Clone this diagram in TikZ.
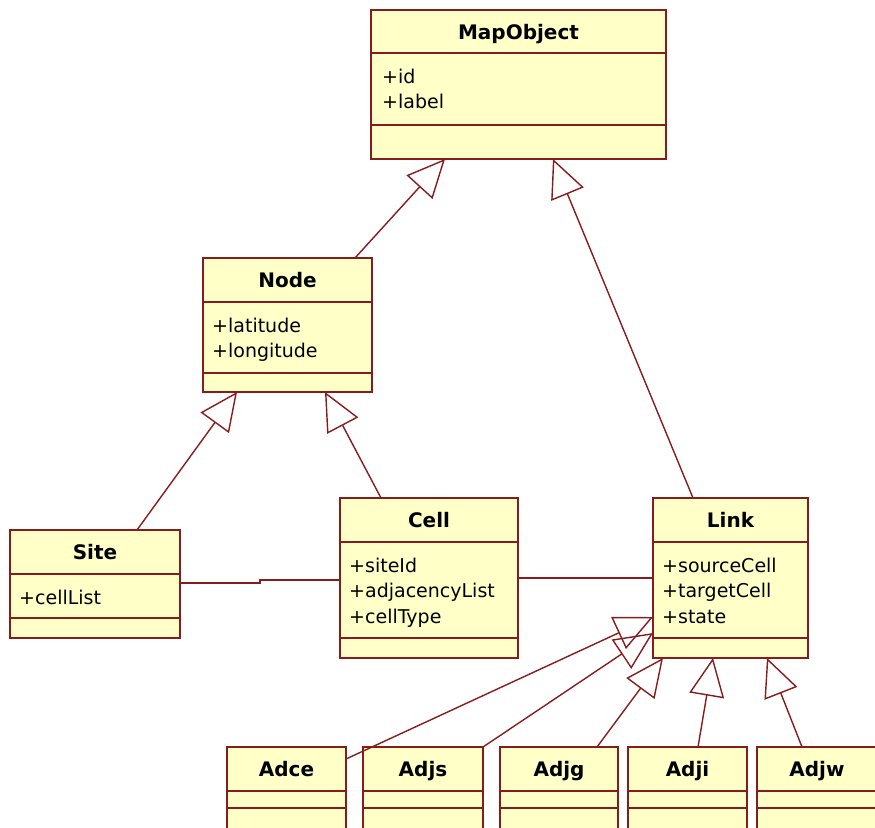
\documentclass[tikz,border=0pt]{standalone}
\usepackage{fontspec}
\setmainfont{DejaVu Sans}
\usetikzlibrary{arrows.meta,calc}
\definecolor{umlfill}{RGB}{255,255,200}
\definecolor{umlline}{RGB}{136,28,28}
\tikzset{
  cls/.style={draw=umlline, fill=umlfill, line width=1.6pt, inner sep=0pt, outer sep=0pt, anchor=north west},
  ttl/.style={font=\bfseries\fontsize{20}{24}\selectfont, anchor=base, inner sep=0pt},
  attr/.style={font=\fontsize{19}{23}\selectfont, anchor=base west, inner sep=0pt},
  sepline/.style={draw=umlline, line width=1.6pt},
  gen/.style={draw=umlline, line width=1.4pt, -{Triangle[open, length=38pt, width=35pt, line width=1.4pt]}},
  assoc/.style={draw=umlline, line width=1.4pt},
}
\newcommand\umlbox[8]{%
  \pgfmathsetmacro\bw{#4-#2}%
  \pgfmathsetmacro\bh{#5-#3}%
  \pgfmathsetmacro\bx{(#2+#4)/2}%
  \pgfmathsetmacro\by{#3+29}%
  \node[cls, minimum width=\bw pt, minimum height=\bh pt] (#1) at (#2,#3) {};
  \draw[sepline] (#2,#6) -- (#4,#6);
  \draw[sepline] (#2,#7) -- (#4,#7);
  \node[ttl] (#1-t) at (\bx,\by) {#8};
}
\begin{document}
\begin{tikzpicture}[x=1pt,y=-1pt]
\useasboundingbox (0,0) rectangle (875,827);
\clip (0,0) rectangle (875,827);

% classes
\umlbox{mapobj}{371}{10}{666}{159}{53}{125}{MapObject}
\node[attr] (mapobj-a1) at (382,83) {+id};
\node[attr] (mapobj-a2) at (382,108.5) {+label};

\umlbox{node}{203}{258}{372}{392}{302}{373}{Node}
\node[attr] (node-a1) at (212,332) {+latitude};
\node[attr] (node-a2) at (212,357.5) {+longitude};

\umlbox{site}{10}{530}{180}{638}{574}{618}{Site}
\node[attr] (site-a1) at (19,604) {+cellList};

\umlbox{cell}{340}{498}{518}{658}{542}{638}{Cell}
\node[attr] (cell-a1) at (349,572) {+siteId};
\node[attr] (cell-a2) at (349,597.5) {+adjacencyList};
\node[attr] (cell-a3) at (349,623) {+cellType};

\umlbox{link}{653}{498}{808}{658}{542}{638}{Link}
\node[attr] (link-a1) at (662,572) {+sourceCell};
\node[attr] (link-a2) at (662,597.5) {+targetCell};
\node[attr] (link-a3) at (662,623) {+state};

\umlbox{adce}{227}{747}{346}{845}{791}{808}{Adce}
\umlbox{adjs}{363}{747}{483}{845}{791}{808}{Adjs}
\umlbox{adjg}{500}{747}{618}{845}{791}{808}{Adjg}
\umlbox{adji}{628}{747}{747}{845}{791}{808}{Adji}
\umlbox{adjw}{757}{747}{877}{845}{791}{808}{Adjw}

% generalizations
\draw[gen] ($(node.north west)+(152,0)$) -- ($(mapobj.south west)+(74,0)$);
\draw[gen] ($(link.north west)+(40,0)$) -- ($(mapobj.south west)+(182,0)$);
\draw[gen] ($(site.north west)+(127,0)$) -- ($(node.south west)+(34,0)$);
\draw[gen] ($(cell.north west)+(41,0)$) -- ($(node.south west)+(122,0)$);
\draw[gen] ($(adce.north east)+(0,12)$) -- ($(link.north west)+(0,119)$);
\draw[gen] (adjs.north east) -- ($(link.north west)+(0,135)$);
\draw[gen] ($(adjg.north west)+(97,0)$) -- ($(link.south west)+(10,0)$);
\draw[gen] ($(adji.north west)+(70,0)$) -- ($(link.south west)+(60,0)$);
\draw[gen] ($(adjw.north west)+(45,0)$) -- ($(link.south west)+(114,0)$);

% associations
\draw[assoc] ($(site.north east)+(0,53)$) -- ($(site.north east)+(80,53)$)
  -- ($(cell.north west)+(-80,82)$) -- ($(cell.north west)+(0,82)$);
\draw[assoc] ($(cell.north east)+(0,80)$) -- ($(link.north west)+(0,80)$);
\end{tikzpicture}
\end{document}
